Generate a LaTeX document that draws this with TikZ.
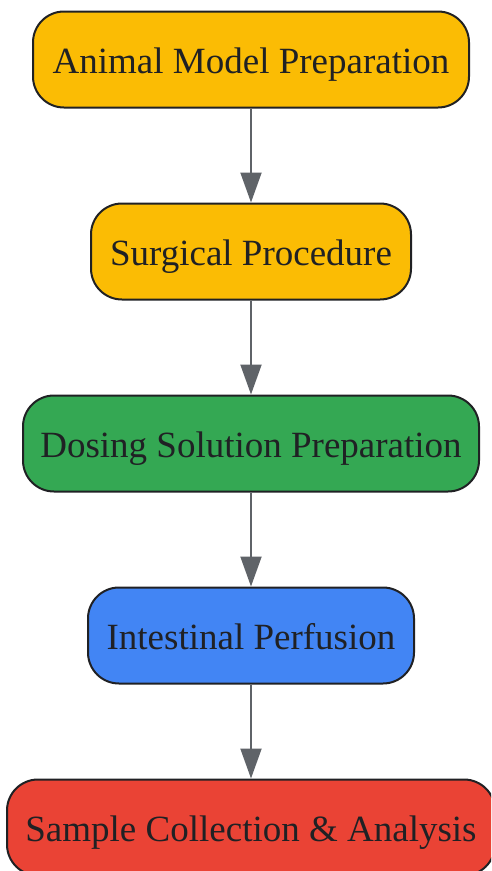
\documentclass[tikz,border=0pt]{standalone}
\usepackage{fontspec}
\setmainfont{Liberation Serif}
\usetikzlibrary{arrows.meta}
\definecolor{gyellow}{HTML}{FBBC04}
\definecolor{ggreen}{HTML}{34A853}
\definecolor{gblue}{HTML}{4285F4}
\definecolor{gred}{HTML}{EA4335}
\definecolor{gtext}{HTML}{202124}
\definecolor{gedge}{HTML}{5F6368}
\tikzset{
  stepbox/.style={draw=gtext, line width=2pt, rounded corners=31pt, rectangle,
    minimum height=96pt, inner sep=0pt, text=gtext, text height=27pt, text depth=0pt,
    font=\fontsize{37}{44}\selectfont},
  flow/.style={draw=gedge, line width=2pt, -{Triangle[length=30pt,width=21pt]}, shorten >=0pt}
}
\begin{document}
\begin{tikzpicture}[x=1pt,y=-1pt]
\useasboundingbox (0,0) rectangle (491,871);
\clip (0,0) rectangle (491,871);
\fill[white] (0,0) rectangle (491,871);
\node[stepbox, fill=gyellow, minimum width=436pt] (a) at (251,59.5) {Animal Model Preparation};
\node[stepbox, fill=gyellow, minimum width=320pt] (b) at (251,251.5) {Surgical Procedure};
\node[stepbox, fill=ggreen, minimum width=456pt] (c) at (251,443.5) {Dosing Solution Preparation};
\node[stepbox, fill=gblue, minimum width=326pt] (d) at (251,635.5) {Intestinal Perfusion};
\node[stepbox, fill=gred, minimum width=488pt] (e) at (251,827.5) {Sample Collection \& Analysis};
\draw[flow] (a.south) -- (b.north);
\draw[flow] (b.south) -- (c.north);
\draw[flow] (c.south) -- (d.north);
\draw[flow] (d.south) -- (e.north);
\end{tikzpicture}
\end{document}
